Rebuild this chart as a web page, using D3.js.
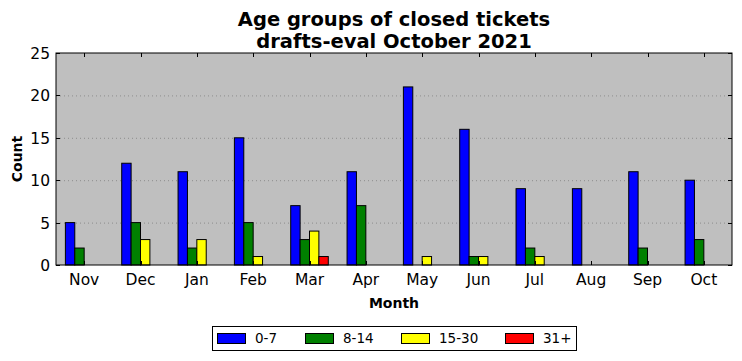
<!DOCTYPE html>
<html><head><meta charset="utf-8">
<script src="https://cdn.jsdelivr.net/npm/d3@7"></script>
<style>body{margin:0;background:#fff}svg{display:block}text{font-family:"DejaVu Sans",sans-serif}</style>
</head><body><svg id="c" width="742" height="361"></svg>
<script>
const months = ["Nov","Dec","Jan","Feb","Mar","Apr","May","Jun","Jul","Aug","Sep","Oct"];
const seriesNames = ["0-7","8-14","15-30","31+"];
const seriesColors = ["#0000ff","#008000","#ffff00","#ff0000"];
const s0_7   = [5,12,11,15,7,11,21,16,9,9,11,10];
const s8_14  = [2,5,2,5,3,7,0,1,2,0,2,3];
const s15_30 = [0,3,3,1,4,0,1,1,1,0,0,0];
const s31    = [0,0,0,0,1,0,0,0,0,0,0,0];
const yTicks = [0,5,10,15,20,25];
const titleLines = ["Age groups of closed tickets","drafts-eval October 2021"];
const series = [s0_7,s8_14,s15_30,s31];

const svg = d3.select("#c");
const L=56, R=732, T=53, B=265;
const x = d3.scaleBand().domain(months).range([L,R]).paddingInner(0).paddingOuter(0);
const y = d3.scaleLinear().domain([0,25]).range([B,T]);
const bw = x.bandwidth()/6;

svg.append("rect").attr("x",L).attr("y",T).attr("width",R-L).attr("height",B-T).attr("fill","#bfbfbf");
// grid
svg.append("g").selectAll("line").data(yTicks.slice(1,-1)).join("line")
  .attr("x1",L).attr("x2",R).attr("y1",d=>y(d)+0.5).attr("y2",d=>y(d)+0.5)
  .attr("stroke","#808080").attr("stroke-width",0.8).attr("stroke-dasharray","1,3");
// bars
series.forEach((vals,i)=>{
  svg.append("g").selectAll("rect").data(vals).join("rect")
    .attr("x",(d,j)=>x(months[j])+x.bandwidth()/2 - 2*bw + i*bw)
    .attr("y",d=>y(d)).attr("width",bw).attr("height",d=>B-y(d))
    .attr("fill",seriesColors[i]).attr("stroke","#000").attr("stroke-width",1);
});
// frame
svg.append("rect").attr("x",L).attr("y",T).attr("width",R-L).attr("height",B-T).attr("fill","none").attr("stroke","#000").attr("stroke-width",1);
// ticks
const tk = svg.append("g").attr("stroke","#000").attr("stroke-width",1);
months.forEach(m=>{
  const cx = Math.round(x(m)+x.bandwidth()/2)+0.5;
  tk.append("line").attr("x1",cx).attr("x2",cx).attr("y1",B).attr("y2",B-4);
  tk.append("line").attr("x1",cx).attr("x2",cx).attr("y1",T).attr("y2",T+4);
});
yTicks.forEach(v=>{
  const cy = Math.round(y(v))+0.5;
  tk.append("line").attr("x1",L).attr("x2",L+4).attr("y1",cy).attr("y2",cy);
  tk.append("line").attr("x1",R).attr("x2",R-4).attr("y1",cy).attr("y2",cy);
});
// tick labels
svg.append("g").selectAll("text").data(months).join("text")
  .attr("x",d=>x(d)+x.bandwidth()/2).attr("y",B+20).attr("text-anchor","middle")
  .attr("font-size",15.5).text(d=>d);
svg.append("g").selectAll("text").data(yTicks).join("text")
  .attr("x",L-6).attr("y",d=>y(d)+6).attr("text-anchor","end")
  .attr("font-size",15.5).text(d=>d);
// axis labels
svg.append("text").attr("x",(L+R)/2).attr("y",308).attr("text-anchor","middle")
  .attr("font-size",14).attr("font-weight","bold").text("Month");
svg.append("text").attr("transform",`translate(22,${(T+B)/2}) rotate(-90)`).attr("text-anchor","middle")
  .attr("font-size",14).attr("font-weight","bold").text("Count");
// title
titleLines.forEach((t,i)=>{
  svg.append("text").attr("x",(L+R)/2).attr("y",26+i*22).attr("text-anchor","middle")
    .attr("font-size",19.5).attr("font-weight","bold").text(t);
});
// legend
const lg = svg.append("g");
lg.append("rect").attr("x",212.5).attr("y",326.5).attr("width",364).attr("height",24).attr("fill","#fff").attr("stroke","#000");
const lx = [217,305,401,505];
seriesNames.forEach((n,i)=>{
  lg.append("rect").attr("x",lx[i]+0.5).attr("y",333.5).attr("width",28).attr("height",10)
    .attr("fill",seriesColors[i]).attr("stroke","#000");
  lg.append("text").attr("x",lx[i]+38).attr("y",343).attr("font-size",13.5).text(n);
});
</script></body></html>
